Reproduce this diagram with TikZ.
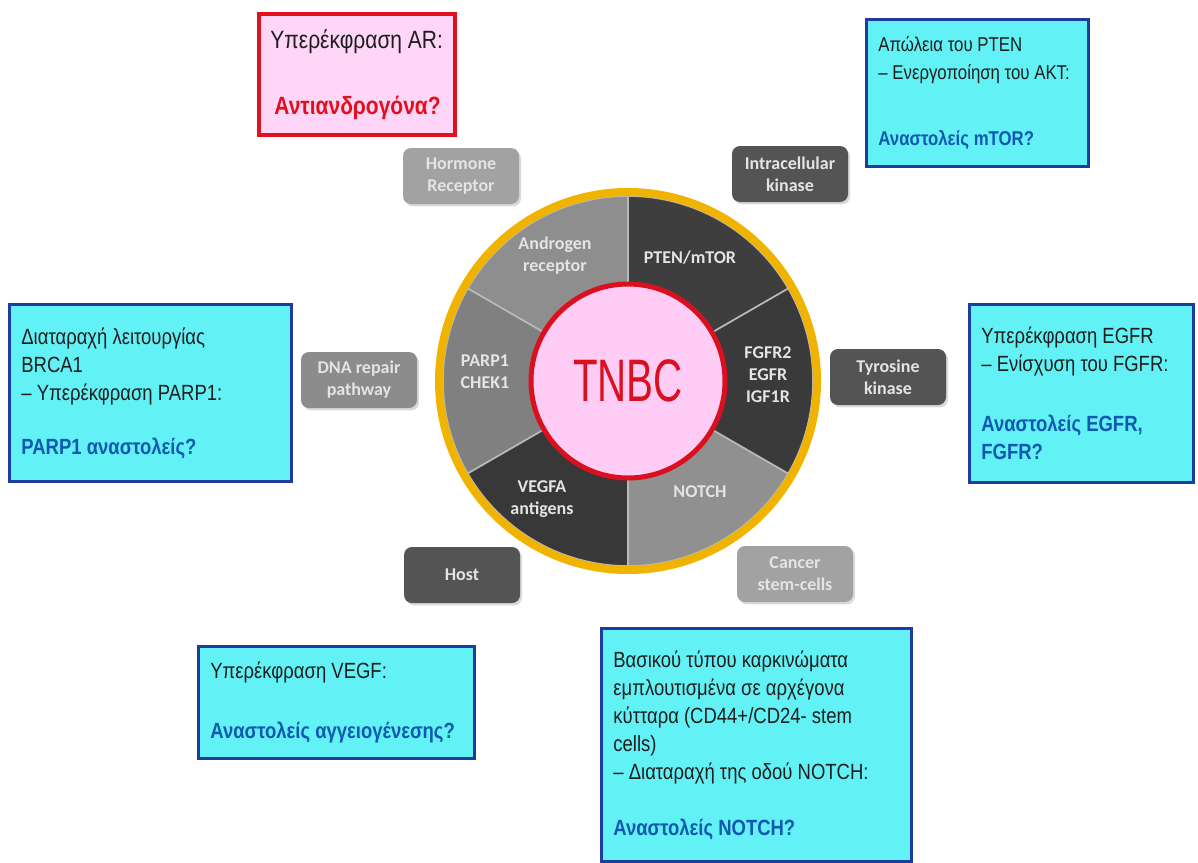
\documentclass[tikz,border=0pt]{standalone}
\usepackage{fontspec}
\setmainfont[FakeStretch=0.84]{Liberation Sans}
\newfontfamily\carlito{Carlito}
\usepackage{graphicx}
\usetikzlibrary{positioning}
\usetikzlibrary{shadows}

\definecolor{ringorange}{HTML}{F0B400}
\definecolor{tnbcred}{HTML}{DA101E}
\definecolor{tnbcpink}{HTML}{FFCCF6}
\definecolor{boxcyan}{HTML}{62F2F6}
\definecolor{boxblue}{HTML}{1E3CA0}
\definecolor{answerblue}{HTML}{1058B0}
\definecolor{textdark}{HTML}{1E1E1E}
\definecolor{arpink}{HTML}{FFD6F8}
\definecolor{arred}{HTML}{E2101C}
\definecolor{textlight}{HTML}{E4E4E4}
\definecolor{graylight}{HTML}{A2A2A2}
\definecolor{graymid}{HTML}{8C8C8C}
\definecolor{graydark}{HTML}{545454}

\tikzset{
        px/.style={x=0.5pt,y=-0.5pt},
        % Gray pathway boxes
        pathbox/.style={rounded corners=4pt, minimum width=58pt, minimum height=28pt, align=center, inner sep=1pt,
            font=\carlito\bfseries\fontsize{9}{11}\selectfont, text=textlight,
            drop shadow={opacity=0.3, shadow xshift=1pt, shadow yshift=-1.2pt}},
        pathbox_light/.style={pathbox, fill=graylight},
        pathbox_mid/.style={pathbox, fill=graymid},
        pathbox_dark/.style={pathbox, fill=graydark},
        % Therapy boxes (frame) and their text
        therapy_cyan/.style={anchor=north west, fill=boxcyan, draw=boxblue, line width=1.5pt},
        therapy_pink/.style={anchor=north west, fill=arpink, draw=arred, line width=2pt},
        therapy_text/.style={align=left, inner sep=0pt, font=\fontsize{11}{14}\selectfont, text=textdark},
        therapy_text_big/.style={therapy_text, font=\fontsize{12.5}{16}\selectfont},
        % Sector labels
        sector_label/.style={align=center, font=\carlito\bfseries\fontsize{9}{11}\selectfont, text=textlight}
}
\newcommand{\answertxt}[1]{\textcolor{answerblue}{\textbf{#1}}}

\begin{document}
\begin{tikzpicture}[px]
    \useasboundingbox (0,0) rectangle (1198,862);
    \coordinate (ctr) at (628,381);

    % Wheel sectors
    \begin{scope}[shift={(ctr)}, x=0.5pt, y=0.5pt]
        \foreach \a/\col in {30/3E3E3E, 90/8E8E8E, 150/808080, 210/383838, 270/909090, 330/3A3A3A}{
            \definecolor{seccol}{HTML}{\col}
            \draw[fill=seccol, draw=gray!55, line width=0.8pt] (0,0) -- (\a:185) arc[start angle=\a, end angle=\a+60, radius=185] -- cycle;
        }
    \end{scope}
    \node[circle, draw=ringorange, line width=4pt, minimum size=189pt, inner sep=0pt] (ring) at (ctr) {};
    \node[circle, fill=tnbcpink, draw=tnbcred, line width=2.5pt, minimum size=97pt, inner sep=0pt,
          text=tnbcred, font=\fontsize{30}{30}\selectfont] (tnbc) at (ctr) {\scalebox{0.8}[1]{TNBC}};

    % Sector labels
    \node[sector_label] (sec_ar) at (555,256) {Androgen\\receptor};
    \node[sector_label] (sec_pten) at (690,258) {PTEN/mTOR};
    \node[sector_label] (sec_fgfr) at (768,375) {FGFR2\\EGFR\\IGF1R};
    \node[sector_label] (sec_parp) at (485,372) {PARP1\\CHEK1};
    \node[sector_label] (sec_vegfa) at (542,499) {VEGFA\\antigens};
    \node[sector_label] (sec_notch) at (700,492) {NOTCH};

    % Pathway boxes
    \node[pathbox_light] (hormone) at (461,176) {Hormone\\Receptor};
    \node[pathbox_dark] (intrakinase) at (790,174) {Intracellular\\kinase};
    \node[pathbox_mid] (dnarepair) at (359,380) {DNA repair\\pathway};
    \node[pathbox_dark] (tyrkinase) at (888,377) {Tyrosine\\kinase};
    \node[pathbox_dark] (host) at (462,575) {Host};
    \node[pathbox_light] (stemcells) at (795,574) {Cancer\\stem-cells};

    % Therapy boxes
    \node[therapy_pink, minimum width=98pt, minimum height=60.5pt] (ar) at (257,12) {};
    \node[therapy_text_big, right=6.5pt of ar.west] (ar_txt)
        {Υπερέκφραση AR:\\[17pt] \hspace*{2pt}\textcolor{arred}{\textbf{Αντιανδρογόνα?}}};

    \node[therapy_cyan, minimum width=111pt, minimum height=73.5pt] (pten) at (865,18) {};
    \node[therapy_text, font=\fontsize{10}{14}\selectfont, right=6.5pt of pten.west] (pten_txt)
        {Απώλεια του PTEN\\– Ενεργοποίηση του AKT:\\[19pt] \answertxt{Αναστολείς mTOR?}};

    \node[therapy_cyan, minimum width=141pt, minimum height=88.5pt] (brca) at (8,303) {};
    \node[therapy_text, right=6.5pt of brca.west] (brca_txt)
        {Διαταραχή λειτουργίας\\BRCA1\\– Υπερέκφραση PARP1:\\[13pt] \answertxt{PARP1 αναστολείς?}};

    \node[therapy_cyan, minimum width=112pt, minimum height=89pt] (egfr) at (968,303) {};
    \node[therapy_text, right=6.5pt of egfr.west] (egfr_txt)
        {Υπερέκφραση EGFR\\– Ενίσχυση του FGFR:\\[16pt] \answertxt{Αναστολείς EGFR,}\\\answertxt{FGFR?}};

    \node[therapy_cyan, minimum width=138pt, minimum height=56pt] (vegf) at (197,645) {};
    \node[therapy_text, right=6.5pt of vegf.west] (vegf_txt)
        {Υπερέκφραση VEGF:\\[16pt] \answertxt{Αναστολείς αγγειογένεσης?}};

    \node[therapy_cyan, minimum width=155pt, minimum height=116.5pt] (notch) at (600,627) {};
    \node[therapy_text, right=6.5pt of notch.west] (notch_txt)
        {Βασικού τύπου καρκινώματα\\εμπλουτισμένα σε αρχέγονα\\κύτταρα (CD44+/CD24- stem\\cells)\\
         – Διαταραχή της οδού NOTCH:\\[14pt] \answertxt{Αναστολείς NOTCH?}};
\end{tikzpicture}
\end{document}
